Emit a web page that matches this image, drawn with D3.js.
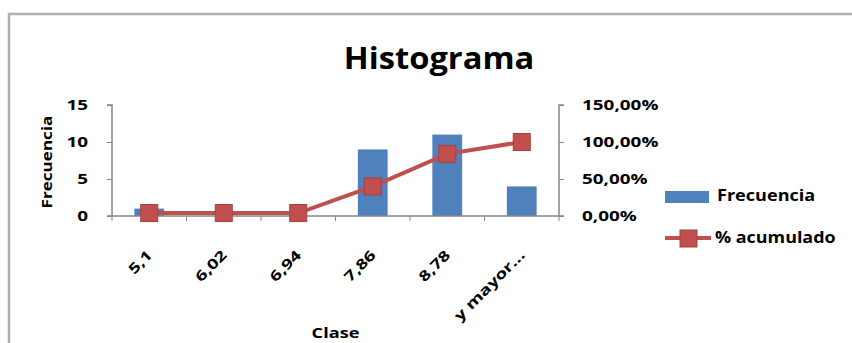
<!DOCTYPE html>
<html>
<head>
<meta charset="utf-8">
<script src="https://cdn.jsdelivr.net/npm/d3@7"></script>
<style>
  html, body { margin: 0; padding: 0; background: #fff; }
  svg { display: block; overflow: visible; }
  text { font-family: "Open Sans", "DejaVu Sans", sans-serif; fill: #000; }
</style>
</head>
<body>
<script>
// histogram data
const clases = ["5,1", "6,02", "6,94", "7,86", "8,78", "y mayor..."];
const frecuencia = [1, 0, 0, 9, 11, 4];
const acumulado = [4, 4, 4, 40, 84, 100]; // percent
const freqTicks = [0, 5, 10, 15];
const pctTicks = [0, 50, 100, 150];

const width = 852, height = 343;
const margin = { top: 105, right: 293, bottom: 127, left: 112 };
const innerWidth = width - margin.left - margin.right;
const innerHeight = height - margin.top - margin.bottom;

// the reference text is drawn a bit wider than Open Sans
const stretch = 1.35;

const svg = d3.select("body").append("svg")
    .attr("width", width)
    .attr("height", height)
    .attr("viewBox", `0 0 ${width} ${height}`);

// chart frame (only top and left edges are visible in the crop)
svg.append("path")
    .attr("d", `M9,${height}V14H${width}`)
    .attr("fill", "none")
    .attr("stroke", "#b0b0b0")
    .attr("stroke-width", 2.5);

const g = svg.append("g")
    .attr("transform", `translate(${margin.left},${margin.top})`);

const x = d3.scaleBand()
    .domain(clases)
    .range([0, innerWidth])
    .paddingInner(0.6)
    .paddingOuter(0.3);

const yLeft = d3.scaleLinear().domain([0, 15]).range([innerHeight, 0]);
const yRight = d3.scaleLinear().domain([0, 150]).range([innerHeight, 0]);

const blue = "#4f81bd", red = "#c0504d", axisColor = "#868686";

// bars
g.selectAll(".bar")
    .data(frecuencia)
    .enter().append("rect")
    .attr("class", "bar")
    .attr("x", (d, i) => x(clases[i]))
    .attr("y", d => yLeft(d))
    .attr("width", x.bandwidth())
    .attr("height", d => innerHeight - yLeft(d))
    .attr("fill", blue);

// axes
const leftAxis = g.append("g")
    .call(d3.axisLeft(yLeft).tickValues(freqTicks).tickSize(5));
leftAxis.selectAll("text")
    .style("font-size", "14px").style("font-weight", "bold")
    .attr("x", 0)
    .attr("transform", `translate(-24,0) scale(${stretch},1)`);

const rightAxis = g.append("g")
    .attr("transform", `translate(${innerWidth},0)`)
    .call(d3.axisRight(yRight).tickValues(pctTicks).tickSize(5)
        .tickFormat(d => d3.format(".2f")(d).replace(".", ",") + "%"));
rightAxis.selectAll("text")
    .style("font-size", "14px").style("font-weight", "bold")
    .attr("x", 0)
    .attr("transform", `translate(23,0) scale(${stretch},1)`);

const bottomAxis = g.append("g")
    .attr("transform", `translate(0,${innerHeight})`)
    .call(d3.axisBottom(x).tickSize(0).tickPadding(0));
bottomAxis.selectAll("text")
    .style("font-size", "14px").style("font-weight", "bold")
    .attr("text-anchor", "end")
    .attr("y", 0).attr("dy", 0)
    .attr("transform", `translate(4,40) rotate(-45) scale(${stretch},1)`);

// category boundary ticks
const step = x.step();
const bounds = d3.range(clases.length + 1).map(i => x(clases[0]) - x.paddingInner() * step / 2 + i * step);
g.selectAll(".ctick")
    .data(bounds)
    .enter().append("line")
    .attr("x1", d => d).attr("x2", d => d)
    .attr("y1", innerHeight).attr("y2", innerHeight + 5)
    .attr("stroke", axisColor);

[leftAxis, rightAxis, bottomAxis].forEach(a => {
    a.selectAll(".domain").attr("stroke", axisColor).attr("stroke-width", 1.5);
    a.selectAll(".tick line").attr("stroke", axisColor);
});
leftAxis.select(".domain").attr("d", `M-5,0H0V${innerHeight}H-5`);
rightAxis.select(".domain").attr("d", `M5,0H0V${innerHeight}H5`);
bottomAxis.select(".domain").attr("d", `M0,0H${innerWidth}`);

// cumulative line
const line = d3.line()
    .x((d, i) => x(clases[i]) + x.bandwidth() / 2)
    .y(d => yRight(d));

g.append("path")
    .datum(acumulado)
    .attr("fill", "none")
    .attr("stroke", red)
    .attr("stroke-width", 4)
    .attr("d", line);

g.selectAll(".marker")
    .data(acumulado)
    .enter().append("rect")
    .attr("x", (d, i) => x(clases[i]) + x.bandwidth() / 2 - 8.5)
    .attr("y", d => yRight(d) - 8.5)
    .attr("width", 17).attr("height", 17)
    .attr("fill", red)
    .attr("stroke", "#a8403d")
    .attr("stroke-width", 1);

// title and axis labels
svg.append("text")
    .attr("transform", "translate(439,69) scale(1.09,1)")
    .attr("text-anchor", "middle")
    .style("font-size", "30px").style("font-weight", "bold")
    .text("Histograma");

svg.append("text")
    .attr("transform", "translate(52,162) rotate(-90) scale(1.22,1)")
    .attr("text-anchor", "middle")
    .style("font-size", "14px").style("font-weight", "bold")
    .text("Frecuencia");

svg.append("text")
    .attr("transform", `translate(${margin.left + innerWidth / 2},338) scale(1.3,1)`)
    .attr("text-anchor", "middle")
    .style("font-size", "14px").style("font-weight", "bold")
    .text("Clase");

// legend
const legend = svg.append("g").attr("transform", "translate(665,0)");
legend.append("rect")
    .attr("x", 0).attr("y", 191).attr("width", 44).attr("height", 12)
    .attr("fill", blue);
legend.append("text")
    .attr("transform", "translate(52,201) scale(1.13,1)")
    .style("font-size", "16px").style("font-weight", "bold")
    .text("Frecuencia");
legend.append("line")
    .attr("x1", 0).attr("x2", 46).attr("y1", 238).attr("y2", 238)
    .attr("stroke", red).attr("stroke-width", 4);
legend.append("rect")
    .attr("x", 15).attr("y", 230).attr("width", 17).attr("height", 17)
    .attr("fill", red).attr("stroke", "#a8403d");
legend.append("text")
    .attr("transform", "translate(50,243) scale(1.12,1)")
    .style("font-size", "16px").style("font-weight", "bold")
    .text("% acumulado");
</script>
</body>
</html>
